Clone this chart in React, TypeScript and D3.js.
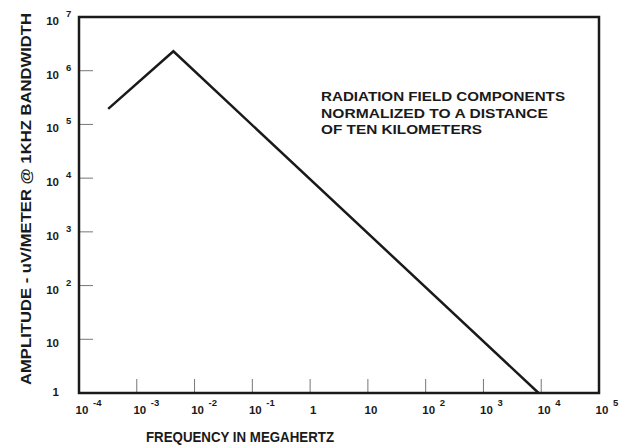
import * as d3 from 'd3';

// field strength vs frequency (log-log)
const freqMHz = [3.2e-4, 4.3e-3, 9.0e3];
const amplitude = [1.95e5, 2.3e6, 1];

const xTicks = [1e-4, 1e-3, 1e-2, 1e-1, 1, 10, 1e2, 1e3, 1e4, 1e5];
const yTicks = [1, 10, 1e2, 1e3, 1e4, 1e5, 1e6, 1e7];

const noteLines = [
  'RADIATION FIELD COMPONENTS',
  'NORMALIZED TO A DISTANCE',
  'OF TEN KILOMETERS',
];
const noteWidths = [244, 227, 161];

const WIDTH = 633;
const HEIGHT = 445;
const FRAME = { left: 79, right: 599, top: 17, bottom: 393 };
const FONT = '"Liberation Sans", Arial, sans-serif';
const INK = '#1a1a1a';

// "10" plus a raised exponent, or plain 1 / 10
function expParts(v: number): { base: string; exp: string } {
  const e = Math.round(Math.log10(v));
  if (e === 0) return { base: '1', exp: '' };
  if (e === 1) return { base: '10', exp: '' };
  return { base: '10', exp: e < 0 ? `-${-e}` : `${e}` };
}

export default function App() {
  const x = d3.scaleLog().domain([1e-4, 1e5]).range([FRAME.left, FRAME.right]);
  const y = d3.scaleLog().domain([1, 1e7]).range([FRAME.bottom, FRAME.top]);

  const pts = freqMHz.map((f, i) => [f, amplitude[i]] as [number, number]);
  const line = d3
    .line<[number, number]>()
    .x((d) => x(d[0]))
    .y((d) => y(d[1]));

  return (
    <svg
      width={WIDTH}
      height={HEIGHT}
      style={{ position: 'absolute', left: 0, top: 0, background: '#fff' }}
      fontFamily={FONT}
    >
      <rect width={WIDTH} height={HEIGHT} fill="#fff" />

      {/* inner tick marks */}
      {yTicks.slice(1, -1).map((t) => (
        <line
          key={`yt${t}`}
          x1={FRAME.left}
          x2={FRAME.left + 14}
          y1={y(t)}
          y2={y(t)}
          stroke="#777"
          strokeWidth={1}
        />
      ))}
      {xTicks.slice(1, -1).map((t) => (
        <line
          key={`xt${t}`}
          x1={x(t)}
          x2={x(t)}
          y1={FRAME.bottom}
          y2={FRAME.bottom - 14}
          stroke="#777"
          strokeWidth={1}
        />
      ))}

      {/* frame */}
      <rect
        x={FRAME.left}
        y={FRAME.top}
        width={FRAME.right - FRAME.left}
        height={FRAME.bottom - FRAME.top}
        fill="none"
        stroke={INK}
        strokeWidth={2.5}
      />

      {/* data */}
      <path d={line(pts) ?? ''} fill="none" stroke={INK} strokeWidth={2.5} strokeLinejoin="miter" />

      {/* y tick labels */}
      {yTicks.map((t) => {
        const { base, exp } = expParts(t);
        const ty = y(t);
        return (
          <g key={`yl${t}`} fontWeight={700} fill={INK}>
            <text x={59} y={base === '1' ? ty + 3 : ty + 8} textAnchor="end" fontSize={11.5}>
              {base}
            </text>
            {exp && (
              <text x={66} y={ty} fontSize={9.5}>
                {exp}
              </text>
            )}
          </g>
        );
      })}

      {/* x tick labels */}
      {xTicks.map((t) => {
        const { base, exp } = expParts(t);
        const tx = x(t) + 3;
        return (
          <g key={`xl${t}`} fontWeight={700} fill={INK}>
            <text x={tx} y={414} textAnchor="middle" fontSize={11.5}>
              {base}
            </text>
            {exp && (
              <text x={tx + 11} y={406} fontSize={9.5}>
                {exp}
              </text>
            )}
          </g>
        );
      })}

      {/* annotation */}
      {noteLines.map((s, i) => (
        <text
          key={s}
          x={321}
          y={101 + i * 16.5}
          fontSize={12}
          fontWeight={700}
          fill={INK}
          textLength={noteWidths[i]}
          lengthAdjust="spacingAndGlyphs"
        >
          {s}
        </text>
      ))}

      {/* axis titles */}
      <text
        x={146}
        y={442}
        fontSize={14}
        fontWeight={700}
        fill={INK}
        textLength={188}
        lengthAdjust="spacingAndGlyphs"
      >
        FREQUENCY IN MEGAHERTZ
      </text>
      <text
        transform={`translate(31,385) rotate(-90)`}
        fontSize={14.5}
        fontWeight={700}
        fill={INK}
        textLength={372}
        lengthAdjust="spacingAndGlyphs"
      >
        AMPLITUDE - uV/METER @ 1KHZ BANDWIDTH
      </text>
    </svg>
  );
}
